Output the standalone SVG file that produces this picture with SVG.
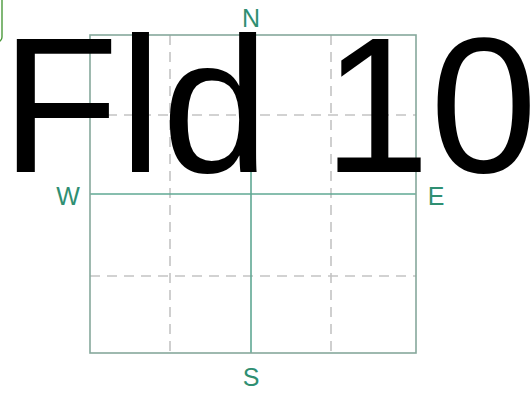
<svg xmlns="http://www.w3.org/2000/svg" width="532" height="393" viewBox="0 0 532 393">
<style>
.dash{stroke:#c4c4c4;stroke-width:1.6;stroke-dasharray:10 7;fill:none}
.axis{stroke:#5fa893;stroke-width:1.6;fill:none}
.frame{stroke:#86a89c;stroke-width:1.6;fill:none}
.lbl{font-family:"Liberation Sans",Arial,sans-serif;font-size:25px;fill:#2f8f72;text-anchor:middle}
.big{font-family:"Liberation Sans",Arial,sans-serif;font-size:193px;fill:#000}
</style>
<rect width="532" height="393" fill="#fff"/>
<g id="corner-box"><rect x="-40" y="-10" width="42" height="52" rx="5" fill="none" stroke="#4c9a3c" stroke-width="1.4"/></g>
<g id="grid">
<line class="dash" x1="170" y1="35" x2="170" y2="353"/>
<line class="dash" x1="331" y1="35" x2="331" y2="353"/>
<line class="dash" x1="90" y1="115" x2="416" y2="115"/>
<line class="dash" x1="90" y1="276" x2="416" y2="276"/>
<line class="axis" x1="251" y1="35" x2="251" y2="353"/>
<line class="axis" x1="90" y1="194" x2="416" y2="194"/>
<rect class="frame" x="90" y="35" width="326" height="318"/>
</g>
<g id="labels">
<text class="lbl" x="251" y="27">N</text>
<text class="lbl" x="251" y="386">S</text>
<text class="lbl" x="68" y="205">W</text>
<text class="lbl" x="436" y="205">E</text>
</g>
<g id="title"><text class="big" x="1" y="172">Fld 10</text></g>
</svg>
